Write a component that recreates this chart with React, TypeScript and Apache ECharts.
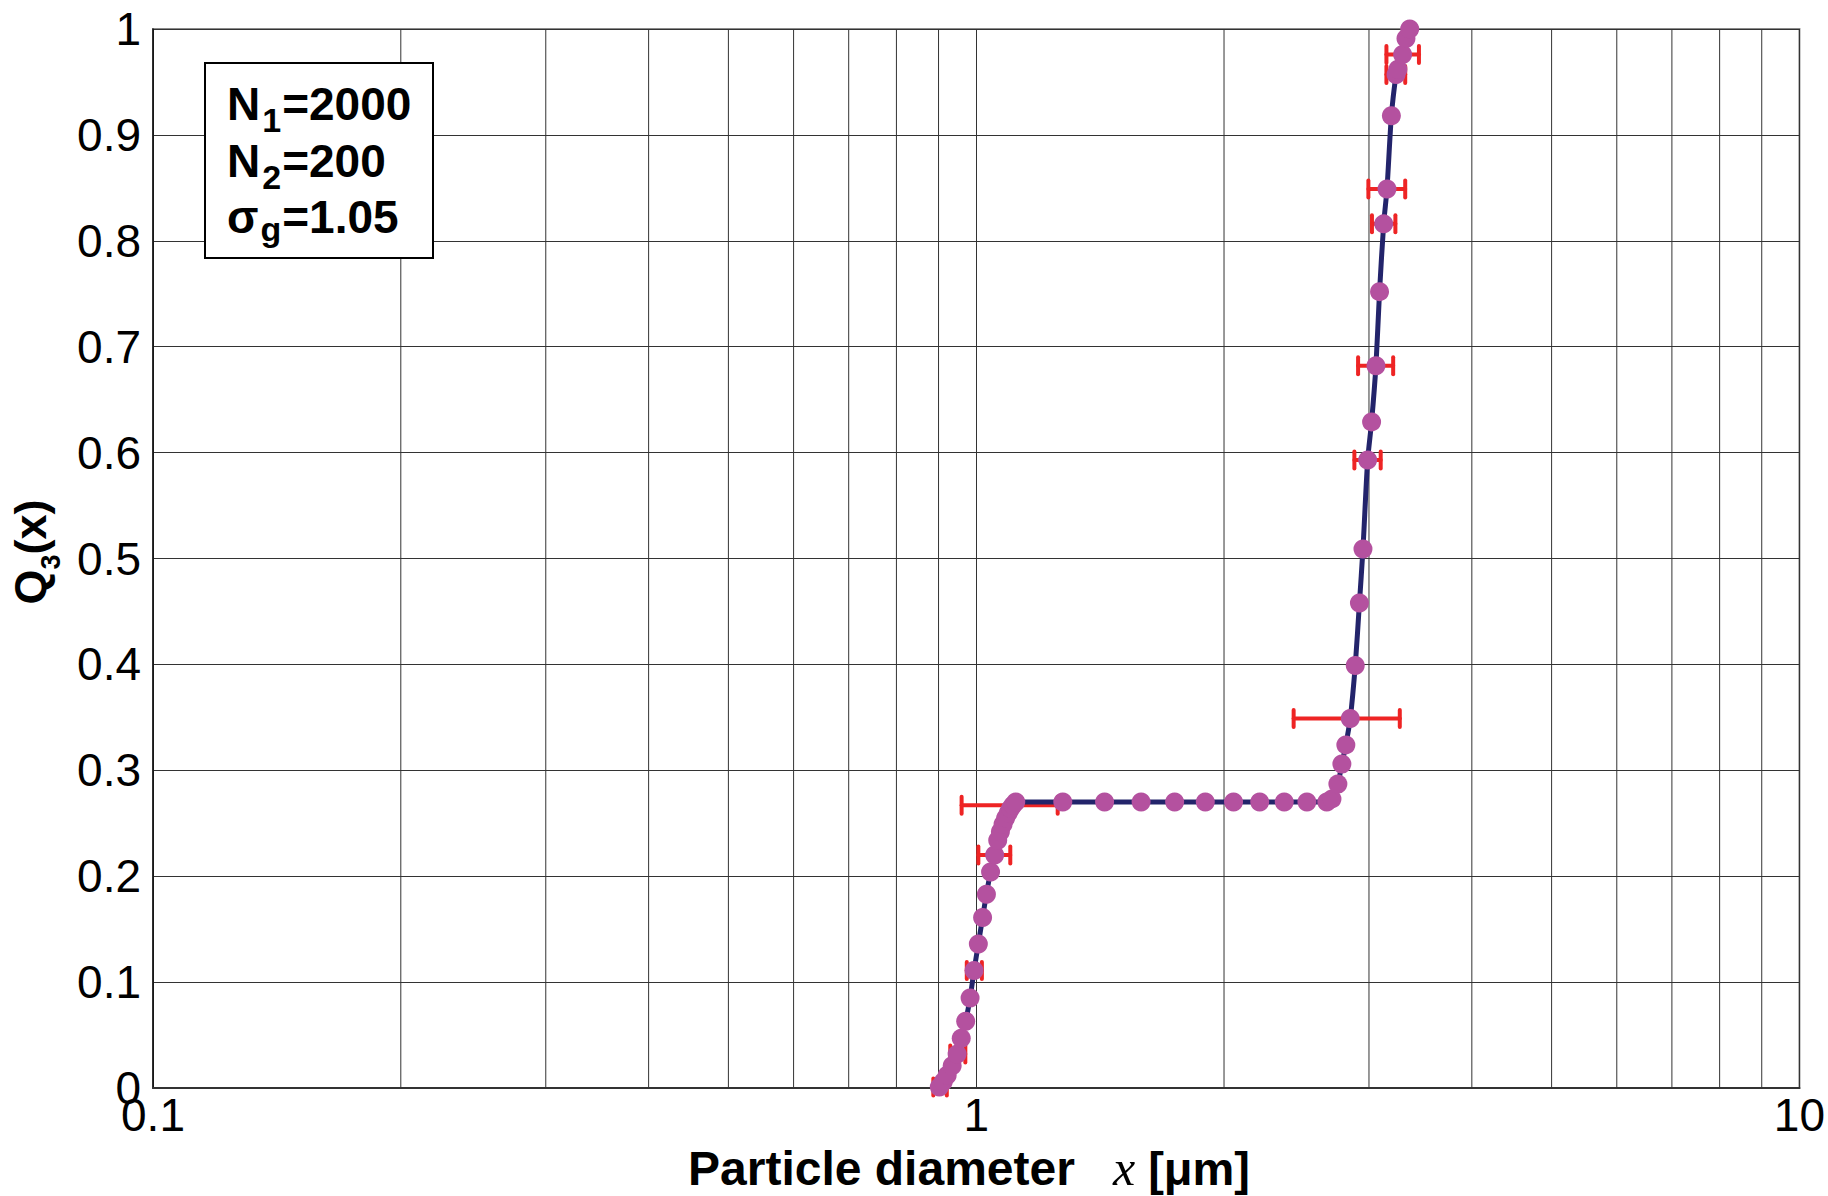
import React, { useEffect, useRef } from 'react';
import * as echarts from 'echarts';

// Particle diameter x [µm] of each measured point and cumulative volume fraction Q3(x)
const diameters = [
  0.902, 0.912, 0.922, 0.935, 0.948, 0.959, 0.971, 0.983, 0.994, 1.006,
  1.018, 1.029, 1.041, 1.053, 1.062, 1.070, 1.078, 1.086, 1.094, 1.101,
  1.108, 1.117,
  1.274, 1.432, 1.586, 1.742, 1.898, 2.054, 2.210, 2.367, 2.522, 2.666,
  2.705, 2.750, 2.781, 2.812, 2.847, 2.887, 2.921, 2.950, 2.989, 3.022,
  3.059, 3.090, 3.126, 3.155, 3.194, 3.236, 3.253, 3.296, 3.327, 3.362,
];
const q3 = [
  0.001, 0.006, 0.012, 0.021, 0.032, 0.047, 0.063, 0.085, 0.111, 0.136,
  0.161, 0.183, 0.204, 0.220, 0.234, 0.242, 0.249, 0.255, 0.260, 0.264,
  0.267, 0.270,
  0.270, 0.270, 0.270, 0.270, 0.270, 0.270, 0.270, 0.270, 0.270, 0.270,
  0.273, 0.287, 0.306, 0.324, 0.349, 0.399, 0.458, 0.509, 0.593, 0.629,
  0.682, 0.752, 0.816, 0.849, 0.918, 0.957, 0.962, 0.976, 0.991, 1.000,
];

// Horizontal error bars: Q3 level, lower and upper diameter
const errQ3 = [0.001, 0.032, 0.111, 0.220, 0.267, 0.349, 0.593, 0.682, 0.816, 0.849, 0.957, 0.976];
const errLow = [0.887, 0.930, 0.974, 1.006, 0.960, 2.43, 2.88, 2.91, 3.025, 2.995, 3.15, 3.15];
const errHigh = [0.921, 0.970, 1.016, 1.100, 1.256, 3.27, 3.10, 3.21, 3.23, 3.32, 3.32, 3.45];

// Minor log grid positions
const minorGridX = [0.2, 0.3, 0.4, 0.5, 0.6, 0.7, 0.8, 0.9, 2, 3, 4, 5, 6, 7, 8, 9];

const legendLines = [
  [{ t: 'N', sub: false }, { t: '1', sub: true }, { t: '=2000', sub: false }],
  [{ t: 'N', sub: false }, { t: '2', sub: true }, { t: '=200', sub: false }],
  [{ t: 'σ', sub: false }, { t: 'g', sub: true }, { t: '=1.05', sub: false }],
];

const SANS = '"Liberation Sans", Arial, Helvetica, sans-serif';
const SERIF = '"Liberation Serif", "Times New Roman", serif';
const CENTRAL = 0.3465;

type Piece = { text: string; size: number; weight?: string; style?: string; family?: string; dy?: number; gap?: number };

let measureCtx: CanvasRenderingContext2D | null = null;
function measure(text: string, font: string): number {
  if (!measureCtx) measureCtx = document.createElement('canvas').getContext('2d');
  measureCtx!.font = font;
  return measureCtx!.measureText(text).width;
}

function buildPieces(pieces: Piece[], x0: number, baseline: number, align: 'left' | 'center', z = 100) {
  const fonts = pieces.map(
    (p) => `${p.style || 'normal'} ${p.weight || 'bold'} ${p.size}px ${p.family || SANS}`
  );
  const widths = pieces.map((p, i) => measure(p.text, fonts[i]));
  const total = widths.reduce((a, b) => a + b, 0) + pieces.reduce((a, p) => a + (p.gap || 0), 0);
  let x = align === 'center' ? x0 - total / 2 : x0;
  return pieces.map((p, i) => {
    const el = {
      type: 'text',
      x,
      y: baseline + (p.dy || 0) - CENTRAL * p.size,
      z,
      silent: true,
      style: {
        text: p.text,
        fontSize: p.size,
        fontWeight: p.weight || 'bold',
        fontStyle: p.style || 'normal',
        fontFamily: p.family || SANS,
        fill: '#000',
        align: 'left',
        verticalAlign: 'middle',
      },
    };
    x += widths[i] + (p.gap || 0);
    return el;
  });
}

export default function App() {
  const ref = useRef<HTMLDivElement>(null);

  useEffect(() => {
    if (!ref.current) return;
    const chart = echarts.init(ref.current, null, { renderer: 'svg' });

    const points = diameters.map((d, i) => [d, q3[i]]);
    const errData = errQ3.map((q, i) => [errLow[i], q, errHigh[i]]);

    const xTitle = buildPieces(
      [
        { text: 'Particle diameter', size: 48, gap: 38 },
        { text: 'x', size: 50, weight: 'normal', style: 'italic', family: SERIF, gap: 0 },
        { text: ' [μm]', size: 47 },
      ],
      969,
      1185,
      'center'
    );

    const yTitle = {
      type: 'group',
      x: 46,
      y: 552,
      rotation: Math.PI / 2,
      children: buildPieces(
        [
          { text: 'Q', size: 45 },
          { text: '3', size: 27, dy: 14 },
          { text: '(x)', size: 45 },
        ],
        0,
        0,
        'center'
      ),
    };

    const legendTexts: any[] = [];
    legendLines.forEach((line, li) => {
      const baseline = 120 + li * 56.5;
      legendTexts.push(
        ...buildPieces(
          line.map((p) => ({
            text: p.t,
            size: p.sub ? 34 : 46,
            dy: p.sub ? (p.t === 'g' ? 8 : 12) : 0,
            gap: p.sub ? 1 : 2,
          })),
          227,
          baseline,
          'left',
          110
        )
      );
    });

    const option: any = {
      animation: false,
      backgroundColor: '#ffffff',
      grid: {
        left: 153,
        right: 26,
        top: 29,
        bottom: 108,
        show: true,
        borderColor: '#8a8a8a',
        borderWidth: 2,
        backgroundColor: 'transparent',
      },
      xAxis: {
        type: 'log',
        logBase: 10,
        min: 0.1,
        max: 10,
        axisLine: { show: true, onZero: false, lineStyle: { color: '#333', width: 2 } },
        axisTick: { show: false },
        splitLine: { show: true, lineStyle: { color: '#333', width: 1 } },
        axisLabel: {
          color: '#000',
          fontSize: 46,
          fontFamily: SANS,
          margin: 4,
          showMinLabel: true,
          showMaxLabel: true,
          formatter: (v: number) => String(parseFloat(Number(v).toPrecision(6))),
        },
      },
      yAxis: {
        type: 'value',
        min: 0,
        max: 1,
        interval: 0.1,
        axisLine: { show: true, onZero: false, lineStyle: { color: '#111', width: 1.5 } },
        axisTick: { show: false },
        splitLine: { show: true, lineStyle: { color: '#333', width: 1 } },
        axisLabel: {
          color: '#000',
          fontSize: 46,
          fontFamily: SANS,
          margin: 12,
          formatter: (v: number) => String(Math.round(v * 10) / 10),
        },
      },
      series: [
        {
          type: 'custom',
          name: 'minor grid',
          coordinateSystem: 'cartesian2d',
          silent: true,
          z: 1,
          data: minorGridX.map((v) => [v, 0]),
          encode: { x: 0, y: 1 },
          renderItem: (_p: any, api: any) => {
            const a = api.coord([api.value(0), 0]);
            const b = api.coord([api.value(0), 1]);
            return {
              type: 'line',
              shape: { x1: a[0], y1: a[1], x2: b[0], y2: b[1] },
              style: { stroke: '#333', lineWidth: 1 },
            };
          },
        },
        {
          type: 'custom',
          name: 'error bars',
          coordinateSystem: 'cartesian2d',
          silent: true,
          z: 3,
          data: errData,
          encode: { x: [0, 2], y: 1 },
          renderItem: (_p: any, api: any) => {
            const lo = api.value(0);
            const y = api.value(1);
            const hi = api.value(2);
            const p1 = api.coord([lo, y]);
            const p2 = api.coord([hi, y]);
            const h = 8.5;
            const st = { stroke: '#ee2424', lineWidth: 4, lineCap: 'round' };
            return {
              type: 'group',
              children: [
                { type: 'line', shape: { x1: p1[0], y1: p1[1], x2: p2[0], y2: p2[1] }, style: st },
                { type: 'line', shape: { x1: p1[0], y1: p1[1] - h, x2: p1[0], y2: p1[1] + h }, style: st },
                { type: 'line', shape: { x1: p2[0], y1: p2[1] - h, x2: p2[0], y2: p2[1] + h }, style: st },
              ],
            };
          },
        },
        {
          type: 'line',
          name: 'fit',
          data: points,
          showSymbol: false,
          symbol: 'none',
          smooth: 0.25,
          z: 4,
          lineStyle: { color: '#23246b', width: 5 },
          silent: true,
        },
        {
          type: 'scatter',
          name: 'Q3',
          data: points,
          symbol: 'circle',
          symbolSize: 19,
          z: 5,
          itemStyle: { color: '#b4519f', opacity: 1 },
          silent: true,
        },
      ],
      graphic: [
        {
          type: 'rect',
          z: 100,
          shape: { x: 205, y: 63, width: 228, height: 195 },
          style: { fill: '#ffffff', stroke: '#000000', lineWidth: 2 },
        },
        ...legendTexts,
        ...xTitle,
        yTitle,
      ],
    };

    chart.setOption(option);
    return () => chart.dispose();
  }, []);

  return (
    <div
      ref={ref}
      style={{ position: 'fixed', left: 0, top: 0, width: 1828, height: 1196, background: '#fff' }}
    />
  );
}
